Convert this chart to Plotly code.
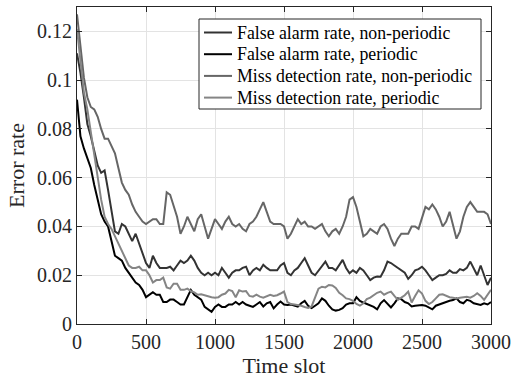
import numpy as np
import plotly.graph_objects as go

# Time slots sampled every 25 slots
time_slot = np.arange(0, 3001, 25)

fa_nonperiodic = [
    0.111, 0.103, 0.093, 0.082, 0.077, 0.071, 0.065, 0.062, 0.063, 0.055,
    0.046, 0.038, 0.037, 0.041, 0.040, 0.037, 0.034, 0.037, 0.033, 0.029,
    0.025, 0.023, 0.028, 0.025, 0.023, 0.023, 0.023, 0.0235, 0.022, 0.024,
    0.026, 0.025, 0.026, 0.028, 0.026, 0.023, 0.021, 0.020, 0.021, 0.020,
    0.021, 0.020, 0.023, 0.021, 0.019, 0.021, 0.022, 0.022, 0.023, 0.0235,
    0.020, 0.022, 0.023, 0.022, 0.0243, 0.023, 0.022, 0.022, 0.022, 0.024,
    0.025, 0.021, 0.020, 0.022, 0.023, 0.025, 0.027, 0.024, 0.021, 0.020,
    0.022, 0.024, 0.0256, 0.023, 0.023, 0.022, 0.024, 0.0263, 0.023, 0.0208,
    0.022, 0.021, 0.023, 0.022, 0.020, 0.018, 0.019, 0.0195, 0.0194, 0.022,
    0.0256, 0.025, 0.024, 0.023, 0.022, 0.021, 0.0185, 0.020, 0.022, 0.0225,
    0.0235, 0.022, 0.020, 0.018, 0.019, 0.020, 0.020, 0.0205, 0.022, 0.021,
    0.021, 0.0225, 0.022, 0.023, 0.0256, 0.023, 0.020, 0.024, 0.020, 0.016,
    0.019,
]

fa_periodic = [
    0.092, 0.077, 0.072, 0.068, 0.064, 0.057, 0.051, 0.045, 0.042, 0.040,
    0.034, 0.028, 0.027, 0.026, 0.023, 0.021, 0.019, 0.017, 0.016, 0.014,
    0.011, 0.012, 0.013, 0.012, 0.012, 0.009, 0.009, 0.010, 0.010, 0.009,
    0.008, 0.008, 0.011, 0.014, 0.012, 0.011, 0.010, 0.007, 0.006, 0.005,
    0.007, 0.008, 0.007, 0.007, 0.008, 0.008, 0.009, 0.008, 0.009, 0.008,
    0.0075, 0.007, 0.008, 0.009, 0.0072, 0.0085, 0.009, 0.0064, 0.008, 0.0092,
    0.008, 0.0078, 0.008, 0.0075, 0.0071, 0.0085, 0.0095, 0.0075, 0.0065, 0.0075,
    0.0085, 0.0105, 0.0095, 0.0075, 0.006, 0.0055, 0.0058, 0.0065, 0.008, 0.0085,
    0.0085, 0.011, 0.0095, 0.0088, 0.0082, 0.0078, 0.007, 0.006, 0.0085, 0.0098,
    0.0085, 0.0068, 0.0085, 0.0105, 0.0102, 0.009, 0.0085, 0.0072, 0.0075, 0.0078,
    0.0078, 0.0075, 0.0068, 0.006, 0.0075, 0.008, 0.0088, 0.009, 0.0095, 0.0098,
    0.0105, 0.009, 0.0085, 0.0099, 0.0095, 0.0085, 0.008, 0.0078, 0.0085, 0.008,
    0.009,
]

md_nonperiodic = [
    0.127, 0.113, 0.101, 0.093, 0.089, 0.088, 0.085, 0.080, 0.076, 0.076,
    0.073, 0.070, 0.064, 0.058, 0.055, 0.053, 0.049, 0.046, 0.044, 0.042,
    0.041, 0.042, 0.043, 0.043, 0.041, 0.041, 0.054, 0.053, 0.048, 0.044,
    0.037, 0.040, 0.044, 0.041, 0.038, 0.043, 0.045, 0.040, 0.035, 0.039,
    0.043, 0.041, 0.039, 0.042, 0.044, 0.041, 0.040, 0.041, 0.039, 0.038,
    0.041, 0.042, 0.044, 0.047, 0.050, 0.046, 0.042, 0.041, 0.041, 0.041,
    0.040, 0.035, 0.037, 0.040, 0.043, 0.041, 0.042, 0.040, 0.040, 0.039,
    0.040, 0.041, 0.038, 0.036, 0.038, 0.039, 0.037, 0.040, 0.044, 0.051,
    0.052, 0.048, 0.042, 0.036, 0.037, 0.039, 0.038, 0.037, 0.040, 0.041,
    0.039, 0.035, 0.032, 0.035, 0.037, 0.037, 0.037, 0.040, 0.040, 0.039,
    0.044, 0.048, 0.047, 0.049, 0.047, 0.044, 0.040, 0.042, 0.046, 0.041,
    0.035, 0.038, 0.044, 0.048, 0.050, 0.048, 0.046, 0.046, 0.046, 0.045,
    0.041,
]

md_periodic = [
    0.121, 0.107, 0.095, 0.088, 0.079, 0.069, 0.060, 0.051, 0.044, 0.041,
    0.039, 0.036, 0.033, 0.030, 0.027, 0.024, 0.023, 0.023, 0.0235, 0.022,
    0.022, 0.020, 0.017, 0.018, 0.018, 0.019, 0.015, 0.0145, 0.0165, 0.0165,
    0.014, 0.014, 0.0145, 0.0135, 0.013, 0.012, 0.0122, 0.0118, 0.0112, 0.011,
    0.0108, 0.011, 0.012, 0.0125, 0.014, 0.0135, 0.011, 0.0138, 0.0133, 0.0135,
    0.0115, 0.0112, 0.012, 0.0112, 0.0108, 0.0115, 0.012, 0.0115, 0.0118, 0.0125,
    0.0133, 0.009, 0.0082, 0.008, 0.0078, 0.0075, 0.007, 0.0066, 0.0072, 0.0112,
    0.0145, 0.0153, 0.015, 0.016, 0.0158, 0.0148, 0.0128, 0.0118, 0.0105, 0.0102,
    0.0095, 0.0082, 0.0075, 0.0085, 0.0102, 0.0108, 0.012, 0.0128, 0.0133, 0.012,
    0.0128, 0.0133, 0.0115, 0.0099, 0.0108, 0.0118, 0.0133, 0.0088, 0.0115, 0.0138,
    0.0125, 0.0095, 0.0082, 0.009, 0.0105, 0.012, 0.0122, 0.0115, 0.011, 0.0108,
    0.0105, 0.0108, 0.011, 0.0112, 0.0108, 0.0115, 0.0126, 0.0115, 0.0099, 0.0118,
    0.014,
]

series_names = [
    "False alarm rate, non-periodic",
    "False alarm rate, periodic",
    "Miss detection rate, non-periodic",
    "Miss detection rate, periodic",
]
series_values = [fa_nonperiodic, fa_periodic, md_nonperiodic, md_periodic]
series_colors = ["#333333", "#000000", "#666666", "#858585"]

x_ticks = [0, 500, 1000, 1500, 2000, 2500, 3000]
y_ticks = [0, 0.02, 0.04, 0.06, 0.08, 0.1, 0.12]
y_ticktext = ["0", "0.02", "0.04", "0.06", "0.08", "0.1", "0.12"]

SERIF = "Liberation Serif"
AXIS_COLOR = "#262626"

fig = go.Figure()
for name, vals, color in zip(series_names, series_values, series_colors):
    fig.add_trace(go.Scatter(
        x=time_slot, y=vals, mode="lines", name=name,
        line=dict(color=color, width=2), showlegend=False,
    ))

axis_style = dict(
    showline=True, linecolor=AXIS_COLOR, linewidth=1, mirror="ticks",
    ticks="inside", ticklen=5, tickcolor=AXIS_COLOR, tickwidth=1,
    showgrid=True, gridcolor="#e3e3e3", gridwidth=1, zeroline=False,
    tickfont=dict(family=SERIF, size=20, color=AXIS_COLOR),
    automargin=False,
)

fig.update_xaxes(
    range=[0, 3000], tickvals=x_ticks,
    title=dict(text="Time slot", standoff=8,
               font=dict(family=SERIF, size=22, color=AXIS_COLOR)),
    **axis_style,
)
fig.update_yaxes(
    range=[0, 0.13], tickvals=y_ticks, ticktext=y_ticktext,
    title=dict(text="Error rate", standoff=6,
               font=dict(family=SERIF, size=22, color=AXIS_COLOR)),
    **axis_style,
)

# Boxed legend in the upper right of the axes (paper coordinates)
W, H = 515, 378
ML, MR, MT, MB = 77, 24, 7, 54
PW, PH = W - ML - MR, H - MT - MB


def px_x(px):
    return (px - ML) / PW


def px_y(py):
    return (H - MB - py) / PH


legend_box = dict(x0=199, x1=481, y0=19, y1=109)
row_y = [32.5, 54.2, 75.9, 97.6]
sample_x0, sample_x1, text_x = 204, 232, 235

shapes = [dict(
    type="rect", xref="paper", yref="paper",
    x0=px_x(legend_box["x0"]), x1=px_x(legend_box["x1"]),
    y0=px_y(legend_box["y1"]), y1=px_y(legend_box["y0"]),
    line=dict(color=AXIS_COLOR, width=1), fillcolor="white", layer="above",
)]
annotations = []
for name, color, ry in zip(series_names, series_colors, row_y):
    shapes.append(dict(
        type="line", xref="paper", yref="paper",
        x0=px_x(sample_x0), x1=px_x(sample_x1), y0=px_y(ry), y1=px_y(ry),
        line=dict(color=color, width=2), layer="above",
    ))
    annotations.append(dict(
        text=name, xref="paper", yref="paper", x=px_x(text_x), y=px_y(ry),
        xanchor="left", yanchor="middle", showarrow=False,
        font=dict(family=SERIF, size=17.8, color="#000000"),
    ))

fig.update_layout(
    width=W, height=H,
    margin=dict(l=ML, r=MR, t=MT, b=MB),
    paper_bgcolor="white", plot_bgcolor="white",
    font=dict(family=SERIF, color=AXIS_COLOR),
    showlegend=False,
    shapes=shapes, annotations=annotations,
)

fig.write_html("out.html")
